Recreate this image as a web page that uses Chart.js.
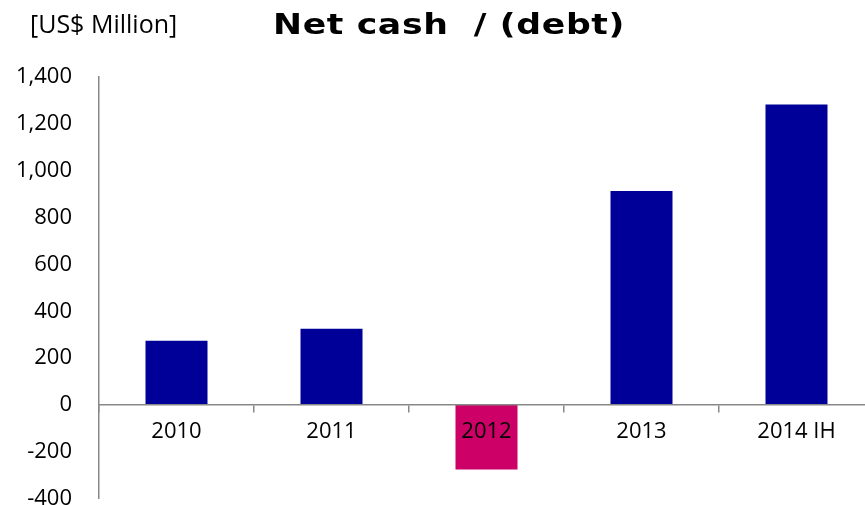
<!DOCTYPE html>
<html>
<head>
<meta charset="utf-8">
<script src="https://cdn.jsdelivr.net/npm/chart.js@4/dist/chart.umd.min.js"></script>
<style>
html,body{margin:0;padding:0;background:#fff;overflow:hidden;width:865px;height:505px;}
#wrap{position:absolute;left:0;top:0;width:874px;height:539px;}
</style>
</head>
<body>
<div id="wrap"><canvas id="c" width="874" height="539"></canvas></div>
<script>
const categories = ["2010", "2011", "2012", "2013", "2014 IH"];
const netCash = [275, 326, -275, 914, 1283];
const barColors = ["#000099", "#000099", "#CC0066", "#000099", "#000099"];
const yTicks = [-400, -200, 0, 200, 400, 600, 800, 1000, 1200, 1400];
const titleText = "Net cash  / (debt)";
const unitText = "[US$ Million]";

const textPlugin = {
  id: 'texts',
  afterDraw(chart) {
    const ctx = chart.ctx;
    ctx.save();
    ctx.fillStyle = '#000';
    ctx.textBaseline = 'alphabetic';
    ctx.textAlign = 'left';
    ctx.font = 'bold 28px "DejaVu Sans", Verdana, sans-serif';
    try { ctx.letterSpacing = '0.5px'; } catch (e) {}
    const w = ctx.measureText(titleText).width;
    const sx = 352 / w;
    ctx.save();
    ctx.translate(273, 34);
    ctx.scale(sx, 1);
    ctx.fillText(titleText, 0, 0);
    ctx.restore();
    try { ctx.letterSpacing = '0px'; } catch (e) {}
    ctx.font = '25px "Open Sans", sans-serif';
    ctx.fillText(unitText, 30, 33);
    ctx.restore();
  }
};

new Chart(document.getElementById('c'), {
  type: 'bar',
  data: {
    labels: categories,
    datasets: [{
      data: netCash,
      backgroundColor: barColors,
      borderWidth: 0,
      barPercentage: 0.4,
      categoryPercentage: 1.0
    }]
  },
  options: {
    responsive: false,
    animation: false,
    layout: { padding: { top: 77, right: 0, bottom: 8, left: 0 } },
    plugins: { legend: { display: false }, tooltip: { enabled: false }, title: { display: false } },
    scales: {
      x: {
        position: { y: 0 },
        afterFit: (s) => { s.height = 0; },
        grid: { display: true, drawOnChartArea: false, drawTicks: true, tickLength: 7, offset: true, color: '#888888', lineWidth: 1.5 },
        border: { display: true, color: '#888888', width: 1.5, z: 1 },
        ticks: { z: 2, color: '#000', padding: 6, maxRotation: 0, font: { family: '"Open Sans", sans-serif', size: 22 } }
      },
      y: {
        min: -400,
        max: 1400,
        afterFit: (s) => { s.width = 99; },
        afterBuildTicks: (s) => { s.ticks = yTicks.map(v => ({ value: v })); },
        grid: { display: false, drawTicks: false },
        border: { display: true, color: '#888888', width: 1.5 },
        ticks: {
          color: '#000',
          padding: 27,
          font: { family: '"Open Sans", sans-serif', size: 22 },
          callback: (v) => v.toLocaleString('en-US')
        }
      }
    }
  },
  plugins: [textPlugin]
});
</script>
</body>
</html>
